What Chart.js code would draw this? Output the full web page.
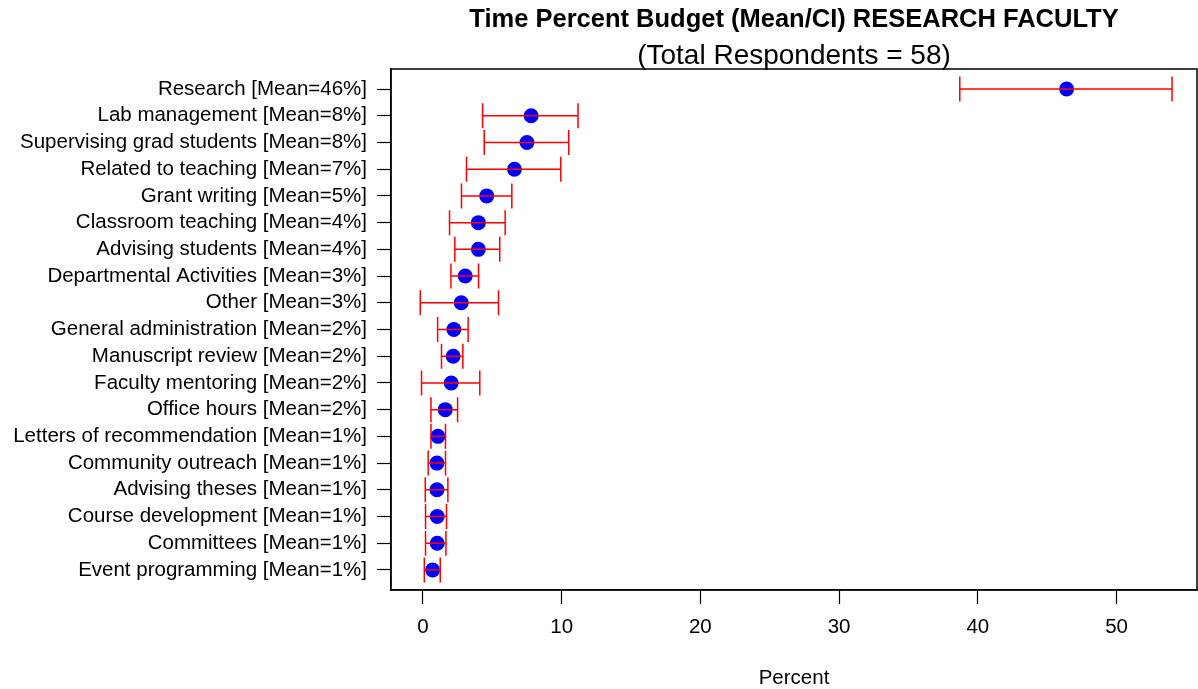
<!DOCTYPE html>
<html>
<head>
<meta charset="utf-8">
<script src="https://cdn.jsdelivr.net/npm/chart.js@4.4.1/dist/chart.umd.min.js"></script>
<style>
html,body{margin:0;padding:0;background:#fff;}
#wrap{width:1198px;height:689px;position:relative;}
</style>
</head>
<body>
<div id="wrap"><canvas id="c" width="1198" height="689"></canvas></div>
<script>
const categories = [
  "Research [Mean=46%]",
  "Lab management [Mean=8%]",
  "Supervising grad students [Mean=8%]",
  "Related to teaching [Mean=7%]",
  "Grant writing [Mean=5%]",
  "Classroom teaching [Mean=4%]",
  "Advising students [Mean=4%]",
  "Departmental Activities [Mean=3%]",
  "Other [Mean=3%]",
  "General administration [Mean=2%]",
  "Manuscript review [Mean=2%]",
  "Faculty mentoring [Mean=2%]",
  "Office hours [Mean=2%]",
  "Letters of recommendation [Mean=1%]",
  "Community outreach [Mean=1%]",
  "Advising theses [Mean=1%]",
  "Course development [Mean=1%]",
  "Committees [Mean=1%]",
  "Event programming [Mean=1%]"
];
const means = [46.4, 7.8, 7.5, 6.6, 4.6, 4.0, 4.0, 3.05, 2.76, 2.23, 2.18, 2.04, 1.61, 1.08, 1.01, 1.01, 1.03, 1.03, 0.70];
const ciLower = [38.7, 4.3, 4.42, 3.14, 2.78, 1.92, 2.30, 2.02, -0.19, 1.06, 1.34, -0.10, 0.58, 0.58, 0.38, 0.17, 0.19, 0.19, 0.10];
const ciUpper = [54.0, 11.18, 10.51, 9.94, 6.41, 5.93, 5.54, 4.01, 5.45, 3.26, 2.88, 4.10, 2.50, 1.63, 1.63, 1.80, 1.70, 1.66, 1.25];
const xTicks = [0, 10, 20, 30, 40, 50];
const titleText = "Time Percent Budget (Mean/CI) RESEARCH FACULTY";
const subtitleText = "(Total Respondents = 58)";
const xTitle = "Percent";

const FONT = "'Liberation Sans', Arial, sans-serif";

const errorBars = {
  id: 'errorBars',
  afterDatasetsDraw(chart) {
    const ctx = chart.ctx, xs = chart.scales.x, ys = chart.scales.y;
    ctx.save();
    ctx.strokeStyle = '#FF0000';
    ctx.lineWidth = 1.5;
    for (let i = 0; i < means.length; i++) {
      const y = ys.getPixelForValue(i);
      const x1 = xs.getPixelForValue(ciLower[i]);
      const x2 = xs.getPixelForValue(ciUpper[i]);
      ctx.beginPath();
      ctx.moveTo(x1, y); ctx.lineTo(x2, y);
      ctx.moveTo(x1, y - 12.5); ctx.lineTo(x1, y + 12.5);
      ctx.moveTo(x2, y - 12.5); ctx.lineTo(x2, y + 12.5);
      ctx.stroke();
    }
    ctx.restore();
  },
  afterDraw(chart) {
    const ctx = chart.ctx, a = chart.chartArea;
    ctx.save();
    ctx.strokeStyle = '#000';
    ctx.lineWidth = 1.5;
    ctx.strokeRect(a.left, a.top, a.right - a.left, a.bottom - a.top);
    const cx = (a.left + a.right) / 2;
    ctx.fillStyle = '#000';
    ctx.textAlign = 'center';
    ctx.textBaseline = 'middle';
    ctx.font = "bold 25.5px " + FONT;
    ctx.fillText(titleText, cx, 20);
    ctx.font = "28px " + FONT;
    ctx.fillText(subtitleText, cx, 56);
    ctx.restore();
  }
};

new Chart(document.getElementById('c'), {
  type: 'scatter',
  data: {
    datasets: [{
      data: means.map((m, i) => ({ x: m, y: i })),
      backgroundColor: '#0000FF',
      borderWidth: 0,
      pointRadius: 7.5,
      pointHoverRadius: 7.5
    }]
  },
  options: {
    responsive: false,
    animation: false,
    devicePixelRatio: 1,
    layout: { autoPadding: false, padding: { top: 69, right: 1, left: 0, bottom: 0 } },
    plugins: { legend: { display: false }, tooltip: { enabled: false }, title: { display: false } },
    scales: {
      x: {
        type: 'linear',
        min: -2.3, max: 55.8,
        afterBuildTicks(axis) { axis.ticks = xTicks.map(v => ({ value: v })); },
        afterFit(axis) { axis.height = 99; axis.paddingLeft = 0; axis.paddingRight = 0; },
        grid: { drawOnChartArea: false, tickLength: 14, color: '#000', tickWidth: 1.2 },
        border: { display: true, color: '#000', width: 1.5 },
        ticks: { color: '#000', font: { family: FONT, size: 20.5 }, padding: 11, maxRotation: 0 },
        title: { display: true, text: xTitle, color: '#000', font: { family: FONT, size: 20.5, lineHeight: 1.0 }, padding: 0 }
      },
      y: {
        type: 'linear',
        reverse: true,
        min: -0.75, max: 18.75,
        afterBuildTicks(axis) { axis.ticks = categories.map((_, i) => ({ value: i })); },
        afterFit(axis) { axis.width = 391; axis.paddingTop = 0; axis.paddingBottom = 0; },
        grid: { drawOnChartArea: false, tickLength: 14, color: '#000', tickWidth: 1.2 },
        border: { display: true, color: '#000', width: 1.5 },
        ticks: {
          color: '#000', font: { family: FONT, size: 20.5 }, padding: 10, autoSkip: false,
          callback: (v) => categories[v] !== undefined ? categories[v] : ''
        }
      }
    }
  },
  plugins: [errorBars]
});
</script>
</body>
</html>
